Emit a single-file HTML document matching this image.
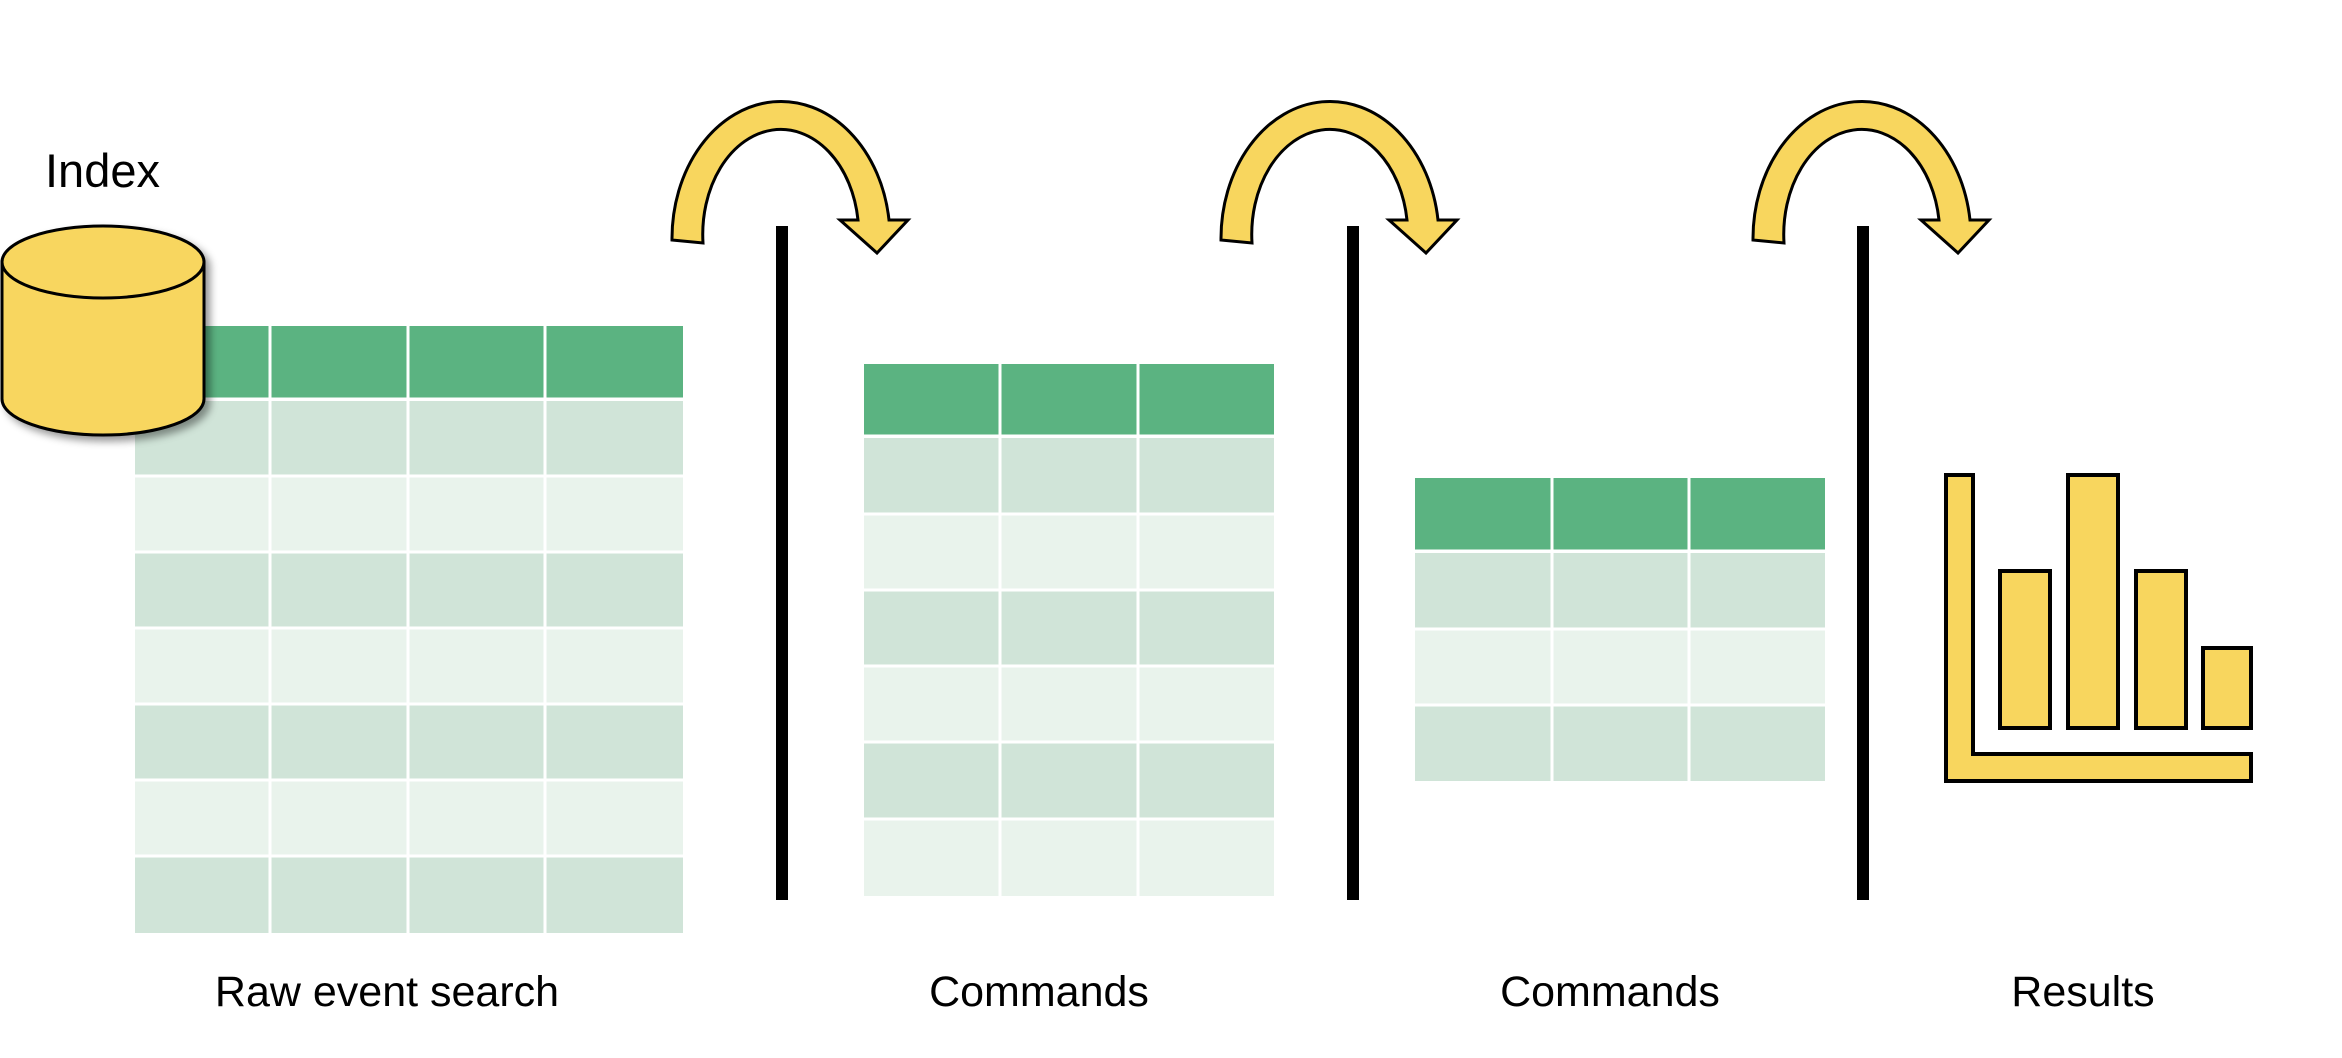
<!DOCTYPE html>
<html><head><style>
body{margin:0;background:#fff;width:2342px;height:1058px;overflow:hidden;position:relative;font-family:"Liberation Sans",sans-serif}
.lbl{position:absolute;font-size:43px;color:#000;text-align:center;width:500px;top:968px}
</style></head><body>
<svg width="2342" height="1058" style="position:absolute;left:0;top:0">
<defs>
<g id="arr"><path d="M672,240 A109,137 0 0 1 889,220 L908,220 L877,253 L840,220 L858,220 A78,105 0 0 0 703,243 Z" fill="#f8d65e" stroke="#000" stroke-width="3" stroke-linejoin="miter"/></g>
<filter id="sh" x="-20%" y="-20%" width="150%" height="150%"><feDropShadow dx="5" dy="5" stdDeviation="4" flood-color="#000" flood-opacity="0.4"/></filter>
</defs>
<!-- table1 -->
<g>
<rect x="135" y="326" width="548" height="72" fill="#5bb381"/>
<rect x="135" y="401" width="548" height="75" fill="#d0e4d8"/>
<rect x="135" y="477" width="548" height="75" fill="#e9f3ec"/>
<rect x="135" y="553" width="548" height="75" fill="#d0e4d8"/>
<rect x="135" y="629" width="548" height="75" fill="#e9f3ec"/>
<rect x="135" y="705" width="548" height="75" fill="#d0e4d8"/>
<rect x="135" y="781" width="548" height="75" fill="#e9f3ec"/>
<rect x="135" y="857" width="548" height="76" fill="#d0e4d8"/>
<g stroke="#fff" stroke-width="3"><line x1="270" y1="326" x2="270" y2="933"/><line x1="408" y1="326" x2="408" y2="933"/><line x1="545" y1="326" x2="545" y2="933"/>
<line x1="135" y1="399" x2="683" y2="399"/><line x1="135" y1="476" x2="683" y2="476"/><line x1="135" y1="552" x2="683" y2="552"/><line x1="135" y1="628" x2="683" y2="628"/><line x1="135" y1="704" x2="683" y2="704"/><line x1="135" y1="780" x2="683" y2="780"/><line x1="135" y1="856" x2="683" y2="856"/></g>
</g>
<!-- table2 -->
<g transform="translate(-3,0)">
<rect x="867" y="364" width="410" height="71" fill="#5bb381"/>
<rect x="867" y="438" width="410" height="76" fill="#d0e4d8"/>
<rect x="867" y="514" width="410" height="76" fill="#e9f3ec"/>
<rect x="867" y="590" width="410" height="76" fill="#d0e4d8"/>
<rect x="867" y="666" width="410" height="76" fill="#e9f3ec"/>
<rect x="867" y="742" width="410" height="77" fill="#d0e4d8"/>
<rect x="867" y="819" width="410" height="77" fill="#e9f3ec"/>
<g stroke="#fff" stroke-width="3"><line x1="1003" y1="364" x2="1003" y2="896"/><line x1="1141" y1="364" x2="1141" y2="896"/>
<line x1="867" y1="436" x2="1277" y2="436"/><line x1="867" y1="514" x2="1277" y2="514"/><line x1="867" y1="590" x2="1277" y2="590"/><line x1="867" y1="666" x2="1277" y2="666"/><line x1="867" y1="742" x2="1277" y2="742"/><line x1="867" y1="819" x2="1277" y2="819"/></g>
</g>
<!-- table3 -->
<g>
<rect x="1415" y="478" width="410" height="72" fill="#5bb381"/>
<rect x="1415" y="553" width="410" height="76" fill="#d0e4d8"/>
<rect x="1415" y="629" width="410" height="76" fill="#e9f3ec"/>
<rect x="1415" y="705" width="410" height="76" fill="#d0e4d8"/>
<g stroke="#fff" stroke-width="3"><line x1="1552" y1="478" x2="1552" y2="781"/><line x1="1689" y1="478" x2="1689" y2="781"/>
<line x1="1415" y1="551" x2="1825" y2="551"/><line x1="1415" y1="629" x2="1825" y2="629"/><line x1="1415" y1="705" x2="1825" y2="705"/></g>
</g>
<!-- cylinder -->
<g filter="url(#sh)">
<path d="M2,262 L2,399 A101,36 0 0 0 204,399 L204,262 Z" fill="#f8d65e" stroke="#000" stroke-width="3"/>
<ellipse cx="103" cy="262" rx="101" ry="36" fill="#f8d65e" stroke="#000" stroke-width="3"/>
</g>
<!-- lines -->
<rect x="776" y="226" width="12" height="674" fill="#000"/>
<rect x="1347" y="226" width="12" height="674" fill="#000"/>
<rect x="1857" y="226" width="12" height="674" fill="#000"/>
<!-- arrows -->
<use href="#arr"/>
<use href="#arr" transform="translate(549,0)"/>
<use href="#arr" transform="translate(1081,0)"/>
<!-- chart -->
<g fill="#f8d65e" stroke="#000" stroke-width="4">
<path d="M1946,475 L1973,475 L1973,754 L2251,754 L2251,781 L1946,781 Z"/>
<rect x="2000" y="571" width="50" height="157"/>
<rect x="2068" y="475" width="50" height="253"/>
<rect x="2136" y="571" width="50" height="157"/>
<rect x="2203" y="648" width="48" height="80"/>
</g>
</svg>
<div style="position:absolute;left:45px;top:143px;font-size:47px;">Index</div>
<div class="lbl" style="left:137px">Raw event search</div>
<div class="lbl" style="left:789px">Commands</div>
<div class="lbl" style="left:1360px">Commands</div>
<div class="lbl" style="left:1833px">Results</div>
</body></html>
